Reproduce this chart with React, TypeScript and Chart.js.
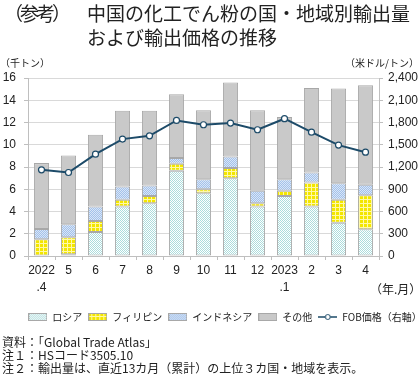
import React, { useEffect, useRef } from 'react';
import { Chart, registerables } from 'chart.js';

Chart.register(...registerables);

const categories: (string | string[])[] = [['2022', '.4'], '5', '6', '7', '8', '9', '10', '11', '12', ['2023', '.1'], '2', '3', '4'];
const seriesNames = ['ロシア', 'フィリピン', 'インドネシア', 'その他', 'FOB価格（右軸）'];
const russia = [0.05, 0.15, 2.16, 4.44, 4.74, 7.66, 5.65, 7.0, 4.44, 5.4, 4.44, 3.0, 2.4];
const philippines = [1.45, 1.53, 0.99, 0.61, 0.66, 0.63, 0.35, 0.9, 0.3, 0.46, 2.16, 2.05, 3.07];
const indonesia = [0.93, 1.17, 1.29, 1.2, 0.94, 0.51, 0.9, 1.05, 1.12, 1.04, 0.9, 1.5, 0.93];
const others = [5.92, 6.19, 6.46, 6.81, 6.72, 5.73, 6.2, 6.65, 7.24, 5.6, 7.6, 8.5, 8.95];
const fobPrice = [1162, 1126, 1373, 1576, 1621, 1828, 1770, 1792, 1702, 1851, 1670, 1495, 1400];
const leftAxis = { min: 0, max: 16, step: 2 };
const rightAxis = { min: 0, max: 2400, step: 300 };

const JP = '"Noto Sans CJK JP", "Noto Sans", sans-serif';
const NUM = '"Liberation Sans", Arial, sans-serif';
const LINE_COLOR = '#1d4b69';
const BORDER = '#a8a8a8';

function makeTile(size: number, draw: (c: CanvasRenderingContext2D) => void) {
  const cv = document.createElement('canvas');
  cv.width = size;
  cv.height = size;
  const c = cv.getContext('2d')!;
  draw(c);
  return cv;
}

function makePatterns() {
  const ctx = document.createElement('canvas').getContext('2d')!;
  const ru = makeTile(2, (c) => {
    c.fillStyle = '#ffffff';
    c.fillRect(0, 0, 2, 2);
    c.fillStyle = '#acdcdc';
    c.fillRect(0, 0, 1, 1);
    c.fillRect(1, 1, 1, 1);
  });
  const ph = makeTile(4, (c) => {
    c.fillStyle = '#f3e600';
    c.fillRect(0, 0, 4, 4);
    c.fillStyle = '#fff9a8';
    c.fillRect(3, 0, 1, 4);
    c.fillRect(0, 3, 4, 1);
  });
  const id = makeTile(2, (c) => {
    c.fillStyle = '#a3c1ea';
    c.fillRect(0, 0, 2, 2);
    c.fillStyle = '#d9e6f7';
    c.fillRect(0, 0, 1, 1);
    c.fillRect(1, 1, 1, 1);
  });
  return [
    ctx.createPattern(ru, 'repeat')!,
    ctx.createPattern(ph, 'repeat')!,
    ctx.createPattern(id, 'repeat')!,
    '#c9c9c9',
  ];
}

function legendBox(fill: CanvasPattern | string) {
  const cv = document.createElement('canvas');
  cv.width = 19;
  cv.height = 8;
  const c = cv.getContext('2d')!;
  c.fillStyle = fill as any;
  c.fillRect(0, 0, 19, 8);
  c.strokeStyle = BORDER;
  c.lineWidth = 1;
  c.strokeRect(0.5, 0.5, 18, 7);
  return cv;
}

function legendLine() {
  const cv = document.createElement('canvas');
  cv.width = 19;
  cv.height = 8;
  const c = cv.getContext('2d')!;
  c.strokeStyle = LINE_COLOR;
  c.lineWidth = 1.5;
  c.beginPath();
  c.moveTo(0, 4);
  c.lineTo(19, 4);
  c.stroke();
  c.fillStyle = '#fff';
  c.beginPath();
  c.arc(9.5, 4, 2.5, 0, Math.PI * 2);
  c.fill();
  c.lineWidth = 1;
  c.stroke();
  return cv;
}

export default function App() {
  const ref = useRef<HTMLCanvasElement>(null);

  useEffect(() => {
    const pats = makePatterns();
    const legendIcons = [legendBox(pats[0]), legendBox(pats[1]), legendBox(pats[2]), legendBox(pats[3]), legendLine()];
    const barValues = [russia, philippines, indonesia, others];
    const barSets = barValues.map((vals, i) => ({
      type: 'bar' as const,
      label: seriesNames[i],
      data: vals,
      backgroundColor: pats[i] as any,
      borderColor: BORDER,
      borderWidth: 1,
      borderSkipped: false as any,
      yAxisID: 'y',
      stack: 's',
      order: 2,
      categoryPercentage: 1,
      barPercentage: 0.56,
    }));
    const lineSet = {
      type: 'line' as const,
      label: seriesNames[4],
      data: fobPrice,
      borderColor: LINE_COLOR,
      borderWidth: 2,
      pointRadius: 3,
      pointBackgroundColor: '#ffffff',
      pointBorderColor: LINE_COLOR,
      pointBorderWidth: 1.2,
      yAxisID: 'y1',
      order: 1,
      tension: 0,
    };
    const chart = new Chart(ref.current!, {
      data: { labels: categories as any, datasets: [...barSets, lineSet] as any },
      options: {
        animation: false,
        responsive: false,
        layout: { padding: { top: 78, left: 0, right: -30, bottom: 46 } },
        plugins: {
          tooltip: { enabled: false },
          legend: {
            position: 'bottom',
            align: 'center',
            labels: {
              usePointStyle: true,
              pointStyleWidth: 19,
              boxWidth: 19,
              boxHeight: 8,
              padding: 6,
              color: '#222',
              font: { family: JP, size: 10 },
              generateLabels: (ch: any) => {
                const items = Chart.defaults.plugins.legend.labels.generateLabels(ch);
                return items
                  .slice()
                  .sort((a: any, b: any) => a.datasetIndex - b.datasetIndex)
                  .map((it: any) => ({ ...it, pointStyle: legendIcons[it.datasetIndex], hidden: false }));
              },
            },
          },
        },
        scales: {
          x: {
            stacked: true,
            grid: { drawOnChartArea: false, offset: true, tickLength: 4, color: '#bfbfbf' },
            border: { color: '#bfbfbf' },
            ticks: { color: '#222', font: { family: NUM, size: 12, lineHeight: 1.35 }, padding: 3, maxRotation: 0, autoSkip: false },
            afterFit: (s: any) => { s.height = 50; },
          },
          y: {
            position: 'left',
            stacked: true,
            min: leftAxis.min,
            max: leftAxis.max,
            ticks: { stepSize: leftAxis.step, color: '#222', font: { family: NUM, size: 12 }, padding: 8 },
            grid: { color: '#d9d9d9', tickLength: 4, tickColor: '#bfbfbf' },
            border: { color: '#bfbfbf' },
            afterFit: (s: any) => { s.width = 28; },
          },
          y1: {
            position: 'right',
            min: rightAxis.min,
            max: rightAxis.max,
            ticks: {
              stepSize: rightAxis.step,
              color: '#222',
              font: { family: NUM, size: 12 },
              padding: 5,
              callback: (v: any) => Number(v).toLocaleString('en-US'),
            },
            grid: { drawOnChartArea: false, tickLength: 4, color: '#bfbfbf' },
            border: { color: '#bfbfbf' },
            afterFit: (s: any) => { s.width = 71; },
          },
        },
      } as any,
    });
    return () => chart.destroy();
  }, []);

  const abs = (o: React.CSSProperties): React.CSSProperties => ({ position: 'absolute', margin: 0, whiteSpace: 'nowrap', ...o });

  return (
    <div style={{ position: 'absolute', left: 0, top: 0, width: 420, height: 378, background: '#fff', overflow: 'hidden', color: '#222' }}>
      <canvas ref={ref} width={420} height={378} style={{ position: 'absolute', left: 0, top: 0, width: 420, height: 378 }} />
      <div style={abs({ left: 4, top: 1, fontFamily: JP, fontSize: 19, lineHeight: '23.5px', letterSpacing: -3 })}>（参考）</div>
      <div style={abs({ left: 87, top: 1, fontFamily: JP, fontSize: 19, lineHeight: '23.5px' })}>
        中国の化工でん粉の国・地域別輸出量<br />および輸出価格の推移
      </div>
      <div style={abs({ left: 0, top: 56, fontFamily: JP, fontSize: 10, lineHeight: '14px' })}>（千トン）</div>
      <div style={abs({ right: 1, top: 56, fontFamily: JP, fontSize: 10, lineHeight: '14px' })}>（米ドル/トン）</div>
      <div style={abs({ left: 370, top: 281, fontFamily: JP, fontSize: 12, lineHeight: '16px' })}>（年.月）</div>
      <div style={abs({ left: 2, top: 335, fontFamily: JP, fontSize: 12, lineHeight: '13px' })}>
        資料：「Global Trade Atlas」<br />注１：HSコード3505.10<br />注２：輸出量は、直近13カ月（累計）の上位３カ国・地域を表示。
      </div>
    </div>
  );
}
